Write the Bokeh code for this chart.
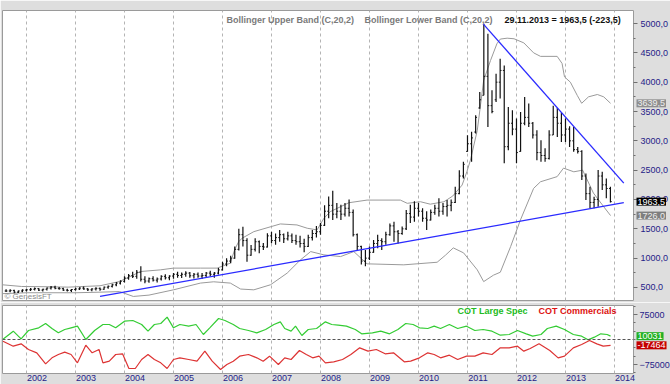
import numpy as np
import pandas as pd
from bokeh.plotting import figure
from bokeh.layouts import column
from bokeh.models import FixedTicker, Range1d, Label, Span, CustomJSTickFormatter
from bokeh.embed import file_html
from bokeh.resources import INLINE

# ---------------- data ----------------
months = pd.date_range("2001-07-01", "2013-11-01", freq="MS")

bar_open = [440, 440, 450, 420, 440, 455,
            460, 470, 480, 455, 470, 490, 505, 485, 480, 455, 450, 465,
            475, 490, 475, 460, 475, 485, 470, 505, 520, 545, 575, 605,
            660, 700, 690, 760, 640, 610, 650, 625, 645, 690, 665, 695,
            725, 705, 725, 745, 700, 725, 695, 705, 745, 725, 745, 800,
            900, 950, 1000, 1150, 1400, 1300, 1050, 1150, 1280, 1200, 1190, 1380,
            1300, 1350, 1400, 1330, 1380, 1300, 1280, 1250, 1200, 1350, 1420, 1450,
            1560, 1800, 1900, 1750, 1800, 1750, 1850, 1780, 1400, 1200, 950, 1000,
            1100, 1250, 1300, 1280, 1400, 1550, 1450, 1420, 1500, 1760, 1700, 1850,
            1800, 1680, 1650, 1780, 1850, 1800, 1880, 1900, 1950, 2100, 2400, 2820,
            2950, 3150, 3560, 3776, 4100, 3600, 3700, 4000, 4200, 2900, 3300, 3200,
            2820, 3300, 3400, 3300, 3100, 2800, 2750, 2700, 3100, 3400, 3300, 3100,
            3200, 3000, 2850, 2820, 2400, 2100, 1950, 2000, 2400, 2250, 2187]
bar_high = [470, 470, 460, 450, 470, 480,
            490, 500, 490, 480, 500, 525, 530, 510, 495, 480, 475, 495,
            505, 515, 490, 485, 505, 500, 515, 535, 565, 595, 625, 690,
            730, 770, 800, 860, 690, 670, 690, 670, 710, 725, 710, 745,
            770, 755, 775, 765, 745, 755, 745, 765, 785, 765, 830, 940,
            1000, 1040, 1200, 1500, 1537, 1340, 1225, 1340, 1300, 1260, 1425, 1450,
            1420, 1480, 1420, 1450, 1420, 1400, 1380, 1330, 1400, 1480, 1550, 1600,
            1900, 2050, 2150, 1940, 1910, 1940, 2000, 1830, 1420, 1210, 1140, 1200,
            1310, 1400, 1340, 1450, 1590, 1620, 1480, 1540, 1820, 1910, 1970, 1940,
            1850, 1800, 1830, 1910, 2020, 1940, 1990, 2000, 2217, 2500, 2643, 3096,
            3153, 3436, 3833, 4995, 4825, 3861, 4145, 4400, 4286, 3577, 3521, 3380,
            3492, 3747, 3635, 3322, 3181, 3011, 2875, 3181, 3600, 3560, 3480, 3380,
            3249, 3237, 2897, 2841, 2445, 2217, 2047, 2501, 2472, 2360, 2217]
bar_low = [425, 420, 400, 405, 420, 430,
           440, 450, 440, 430, 450, 465, 470, 460, 440, 430, 425, 445,
           455, 460, 440, 435, 450, 445, 460, 480, 500, 520, 550, 585,
           630, 660, 650, 600, 570, 580, 600, 585, 620, 635, 625, 650,
           665, 660, 685, 665, 655, 665, 645, 675, 695, 665, 720, 790,
           860, 915, 990, 1130, 1200, 940, 1040, 1115, 1085, 1140, 1180, 1255,
           1230, 1280, 1260, 1300, 1260, 1230, 1180, 1100, 1190, 1300, 1350, 1400,
           1550, 1680, 1650, 1680, 1650, 1710, 1710, 1370, 1140, 890, 860, 970,
           1090, 1170, 1140, 1230, 1380, 1280, 1250, 1400, 1480, 1600, 1620, 1710,
           1620, 1480, 1640, 1740, 1710, 1740, 1710, 1800, 1940, 2090, 2360, 2812,
           2643, 3124, 3549, 3776, 3237, 3470, 3662, 3720, 2616, 2841, 3096, 2616,
           2812, 3266, 3237, 3040, 2671, 2642, 2642, 2680, 3100, 3067, 2982, 2982,
           2897, 2812, 2785, 2331, 1990, 1850, 1850, 1877, 2161, 2020, 1950]
bar_close = [440, 450, 420, 440, 455, 460,
             470, 480, 455, 470, 490, 505, 485, 480, 455, 450, 465, 475,
             490, 475, 460, 475, 485, 470, 505, 520, 545, 575, 605, 660,
             700, 690, 760, 640, 610, 650, 625, 645, 690, 665, 695, 725,
             705, 725, 745, 700, 725, 695, 705, 745, 725, 745, 800, 900,
             950, 1000, 1150, 1400, 1300, 1050, 1150, 1280, 1200, 1190, 1380, 1300,
             1350, 1400, 1330, 1380, 1300, 1280, 1250, 1200, 1350, 1420, 1450, 1560,
             1800, 1900, 1750, 1800, 1750, 1850, 1780, 1400, 1200, 950, 1000, 1100,
             1250, 1300, 1280, 1400, 1550, 1450, 1420, 1500, 1760, 1700, 1850, 1800,
             1680, 1650, 1780, 1850, 1800, 1880, 1900, 1950, 2100, 2400, 2600, 2950,
             3050, 3400, 3700, 4100, 3600, 3500, 4000, 4200, 2900, 3300, 3200, 2800,
             3300, 3400, 3300, 3100, 2800, 2750, 2700, 3100, 3400, 3300, 3100, 3200,
             3000, 2850, 2820, 2400, 2100, 1950, 2000, 2400, 2250, 2187, 1963.5]

band_up_t = [2001.52, 2001.9, 2002.5, 2002.85, 2003.5, 2003.9, 2004.33, 2004.73, 2005.0, 2005.55,
             2005.89, 2006.16, 2006.25, 2006.33, 2006.4, 2006.64, 2007.18, 2007.52, 2007.73, 2007.93,
             2008.07, 2008.2, 2008.58, 2008.95, 2009.63, 2009.77, 2010.04, 2010.24, 2010.52, 2010.7,
             2010.89, 2010.99, 2011.06, 2011.2, 2011.33, 2011.47, 2011.6, 2011.67, 2011.81, 2011.95,
             2012.15, 2012.35, 2012.49, 2012.83, 2012.93, 2012.98, 2013.1, 2013.24, 2013.33, 2013.47,
             2013.65, 2013.78, 2013.92]
band_up_v = [545, 517, 512, 506, 529, 602, 772, 800, 830, 830,
             830, 915, 1150, 1280, 1340, 1452, 1583, 1566, 1510, 1481,
             1680, 1793, 1945, 1990, 1990, 1935, 1962, 1920, 1962, 2060,
             2246, 2480, 2670, 3180, 4030, 4370, 4655, 4735, 4750, 4740,
             4670, 4500, 4440, 4440, 4320, 4090, 4000, 3775, 3640, 3750,
             3790, 3750, 3639.5]

band_lo_t = [2001.52, 2002.0, 2003.0, 2003.5, 2003.9, 2004.18, 2004.5, 2005.0, 2005.55, 2005.82,
             2006.16, 2006.37, 2006.64, 2006.98, 2007.32, 2007.59, 2007.8, 2008.07, 2008.41, 2008.68,
             2008.95, 2009.7, 2010.38, 2010.55, 2010.71, 2010.92, 2011.2, 2011.33, 2011.53, 2011.67,
             2011.88, 2012.08, 2012.35, 2012.49, 2012.83, 2012.96, 2013.17, 2013.35, 2013.57, 2013.78,
             2013.92]
band_lo_v = [395, 410, 410, 420, 430, 347, 370, 460, 575, 597,
             575, 473, 460, 546, 745, 970, 1112, 1056, 1027, 1112,
             903, 886, 930, 1050, 1175, 1090, 800, 600, 710, 760,
             1197, 1650, 2190, 2302, 2390, 2535, 2472, 2500, 2110, 1877,
             1726.0]

support_t = [2003.5, 2014.19]
support_v = [347, 1945]
resist_t = [2011.32, 2014.19]
resist_v = [4995, 2280]

spec_t = [2001.52, 2001.73, 2001.89, 2002.04, 2002.25, 2002.39, 2002.52, 2002.65, 2002.78, 2002.91,
          2003.04, 2003.21, 2003.39, 2003.56, 2003.69, 2003.82, 2004.00, 2004.17, 2004.35, 2004.48,
          2004.61, 2004.74, 2004.87, 2005.00, 2005.13, 2005.31, 2005.46, 2005.61, 2005.74, 2005.92,
          2006.05, 2006.22, 2006.35, 2006.53, 2006.70, 2006.88, 2007.05, 2007.18, 2007.27, 2007.40,
          2007.49, 2007.62, 2007.75, 2007.92, 2008.10, 2008.23, 2008.36, 2008.53, 2008.71, 2008.84,
          2009.06, 2009.23, 2009.41, 2009.58, 2009.74, 2009.89, 2010.02, 2010.19, 2010.32, 2010.45,
          2010.63, 2010.80, 2010.98, 2011.15, 2011.32, 2011.50, 2011.67, 2011.85, 2012.02, 2012.20,
          2012.33, 2012.50, 2012.63, 2012.81, 2012.98, 2013.16, 2013.33, 2013.46, 2013.59, 2013.72,
          2013.85, 2013.92]
spec_v = [1000, 25000, 2000, 27000, 35000, 48000, 33000, 20000, 30000, 35000,
          40000, 0, 27000, 45000, 45000, 35000, 55000, 57000, 45000, 25000,
          45000, 48000, 67000, 35000, 45000, 40000, 45000, 15000, 35000, 63000,
          57000, 45000, 33000, 27000, 20000, 30000, 45000, 53000, 33000, 25000,
          40000, 12000, 30000, 33000, 53000, 45000, 43000, 40000, 30000, 17000,
          20000, 25000, 17000, 30000, 48000, 45000, 35000, 33000, 40000, 33000,
          45000, 33000, 40000, 27000, 30000, 25000, 13000, 15000, 27000, 17000,
          10000, 15000, 33000, 40000, 30000, 15000, 10000, -1000, 7000, 17000,
          15000, 10031]

comm_t = [2001.52, 2001.73, 2001.89, 2002.04, 2002.21, 2002.39, 2002.52, 2002.65, 2002.78, 2002.91,
          2003.04, 2003.21, 2003.34, 2003.48, 2003.56, 2003.69, 2003.82, 2003.96, 2004.09, 2004.22,
          2004.35, 2004.48, 2004.61, 2004.74, 2004.87, 2005.00, 2005.13, 2005.31, 2005.48, 2005.64,
          2005.79, 2005.96, 2006.09, 2006.22, 2006.35, 2006.53, 2006.70, 2006.83, 2006.96, 2007.14,
          2007.27, 2007.40, 2007.57, 2007.71, 2007.84, 2007.97, 2008.10, 2008.27, 2008.45, 2008.62,
          2008.80, 2008.97, 2009.14, 2009.32, 2009.49, 2009.71, 2009.84, 2010.02, 2010.19, 2010.32,
          2010.45, 2010.63, 2010.80, 2010.98, 2011.15, 2011.32, 2011.50, 2011.67, 2011.85, 2012.02,
          2012.15, 2012.28, 2012.46, 2012.68, 2012.85, 2012.98, 2013.16, 2013.33, 2013.49, 2013.64,
          2013.77, 2013.92]
comm_v = [-5000, -20000, -13000, -30000, -40000, -73000, -55000, -45000, -38000, -45000,
          -70000, -17000, -40000, -30000, -70000, -65000, -45000, -43000, -87000, -87000,
          -60000, -45000, -60000, -70000, -87000, -60000, -55000, -60000, -65000, -35000,
          -65000, -90000, -75000, -65000, -50000, -45000, -55000, -65000, -50000, -75000,
          -55000, -60000, -33000, -45000, -55000, -50000, -70000, -67000, -60000, -45000,
          -25000, -35000, -30000, -43000, -40000, -67000, -65000, -55000, -40000, -45000,
          -55000, -47000, -60000, -50000, -50000, -40000, -45000, -25000, -25000, -20000,
          -35000, -27000, -13000, -33000, -55000, -50000, -25000, -15000, -3000, -13000,
          -20000, -17464]

years = list(range(2002, 2015))
price_ticks = list(range(500, 5001, 500))
cot_ticks = [75000, -75000]

# ---------------- layout constants ----------------
X0, X1 = 2001.5102, 2014.388
BG = "#dedede"
NAVY = "#1e2288"
FONT = "Liberation Sans"
GRID = "#b4b4b4"

bar_t = np.array(months.year + months.month / 12.0, dtype=float)
tick_len = 0.028

# ---------------- main price panel ----------------
p1 = figure(frame_width=631, frame_height=290, output_backend="svg", toolbar_location=None,
            x_range=Range1d(X0, X1), y_range=Range1d(278, 5222), y_axis_location="right",
            min_border_left=2, min_border_top=10, min_border_bottom=2, min_border_right=37,
            background_fill_color="white", border_fill_color=BG, outline_line_color="#9a9a9a")
p1.xaxis.visible = False
p1.ygrid.visible = False
p1.xgrid.ticker = FixedTicker(ticks=years)
p1.xgrid.grid_line_color = GRID
p1.xgrid.grid_line_dash = "3 3"

ya = p1.yaxis[0]
ya.ticker = FixedTicker(ticks=price_ticks, minor_ticks=[v - 250 for v in price_ticks] + [5250])
ya.major_label_overrides = {v: f"{v},0" for v in price_ticks}
ya.axis_line_color = None
ya.major_tick_line_color = "#707070"
ya.minor_tick_line_color = "#707070"
ya.major_tick_out = 4
ya.major_tick_in = 0
ya.minor_tick_out = 2
ya.minor_tick_in = 0
ya.major_label_standoff = 3
ya.major_label_text_font = FONT
ya.major_label_text_font_size = "9px"
ya.major_label_text_color = NAVY

# bollinger bands
p1.line(band_up_t, band_up_v, line_color="#9a9a9a", line_width=1)
p1.line(band_lo_t, band_lo_v, line_color="#9a9a9a", line_width=1)

# OHLC bars
p1.segment(x0=bar_t, y0=bar_low, x1=bar_t, y1=bar_high, line_color="#111111", line_width=1.2)
p1.segment(x0=bar_t - tick_len, y0=bar_open, x1=bar_t, y1=bar_open, line_color="#111111", line_width=1)
p1.segment(x0=bar_t, y0=bar_close, x1=bar_t + tick_len, y1=bar_close, line_color="#111111", line_width=1)

# trend lines
p1.line(support_t, support_v, line_color="#2a2aff", line_width=1.3)
p1.line(resist_t, resist_v, line_color="#2a2aff", line_width=1.3)

# legend texts
y_leg = 5068
p1.add_layout(Label(x=2006.08, y=y_leg, text="Bollinger Upper Band (C,20,2)", text_font=FONT,
                    text_font_size="9px", text_font_style="bold", text_color="#7a7a7a",
                    text_baseline="middle"))
p1.add_layout(Label(x=2008.90, y=y_leg, text="Bollinger Lower Band (C,20,2)", text_font=FONT,
                    text_font_size="9px", text_font_style="bold", text_color="#7a7a7a",
                    text_baseline="middle"))
p1.add_layout(Label(x=2011.755, y=y_leg, text="29.11.2013 = 1963,5 (-223,5)", text_font=FONT,
                    text_font_size="9px", text_font_style="bold", text_color="#111111",
                    text_baseline="middle"))
p1.add_layout(Label(x=X0, y=347, x_offset=2, text="\u00a9 GenesisFT", text_font=FONT,
                    text_font_size="8px", text_color="#8a8a8a", text_baseline="middle"))

def badge(p, yv, txt, bg, fg):
    # placed in the right side panel so that it is drawn over the axis area
    p.add_layout(Label(x=X1, y=yv, x_offset=3, text=txt, text_font=FONT, text_font_size="9px",
                       text_color=fg, background_fill_color=bg, text_baseline="middle",
                       padding=1), "right")

fmt = lambda v: f"{v:.1f}".replace(".", ",")
badge(p1, band_up_v[-1], fmt(band_up_v[-1]), "#8e8e8e", "#eeeeee")
badge(p1, band_lo_v[-1], fmt(band_lo_v[-1]), "#7e7e7e", "#eeeeee")
badge(p1, bar_close[-1], fmt(bar_close[-1]), "#000000", "#ffffff")

# ---------------- COT panel ----------------
p2 = figure(frame_width=631, frame_height=68, output_backend="svg", toolbar_location=None,
            x_range=p1.x_range, y_range=Range1d(-102000, 102000), y_axis_location="right",
            min_border_left=2, min_border_top=3, min_border_bottom=11, min_border_right=37,
            background_fill_color="white", border_fill_color=BG, outline_line_color="#9a9a9a")
p2.ygrid.visible = False
p2.xgrid.ticker = FixedTicker(ticks=years)
p2.xgrid.grid_line_color = GRID
p2.xgrid.grid_line_dash = "3 3"

xa = p2.xaxis[0]
xa.ticker = FixedTicker(ticks=[y + 0.214 for y in years])
xa.formatter = CustomJSTickFormatter(code="return Math.floor(tick).toString();")
xa.axis_line_color = None
xa.major_tick_line_color = None
xa.minor_tick_line_color = None
xa.major_tick_out = 0
xa.major_tick_in = 0
xa.minor_tick_out = 0
xa.minor_tick_in = 0
xa.major_label_standoff = 1
xa.major_label_text_font = FONT
xa.major_label_text_font_size = "9px"
xa.major_label_text_color = NAVY

ya2 = p2.yaxis[0]
ya2.ticker = FixedTicker(ticks=cot_ticks, minor_ticks=[-100000, -50000, -25000, 0, 25000, 50000, 100000])
ya2.axis_line_color = None
ya2.major_tick_line_color = "#707070"
ya2.minor_tick_line_color = "#707070"
ya2.major_tick_out = 4
ya2.major_tick_in = 0
ya2.minor_tick_out = 2
ya2.minor_tick_in = 0
ya2.major_label_standoff = 2
ya2.major_label_text_font = FONT
ya2.major_label_text_font_size = "9px"
ya2.major_label_text_color = NAVY

p2.add_layout(Span(location=0, dimension="width", line_color="#555555", line_dash="3 2", line_width=1))
p2.line(spec_t, spec_v, line_color="#33cc33", line_width=1.2)
p2.line(comm_t, comm_v, line_color="#dd3333", line_width=1.2)

p2.add_layout(Label(x=2010.796, y=87000, text="COT Large Spec", text_font=FONT, text_font_size="9px",
                    text_font_style="bold", text_color="#22bb22", text_baseline="middle"))
p2.add_layout(Label(x=2012.449, y=87000, text="COT Commercials", text_font=FONT, text_font_size="9px",
                    text_font_style="bold", text_color="#dd1111", text_baseline="middle"))

badge(p2, spec_v[-1], str(spec_v[-1]), "#22b022", "#ffffff")
badge(p2, comm_v[-1], str(comm_v[-1]), "#c40000", "#ffffff")

layout = column(p1, p2, spacing=0)
open("out.html", "w").write(file_html(layout, INLINE))
